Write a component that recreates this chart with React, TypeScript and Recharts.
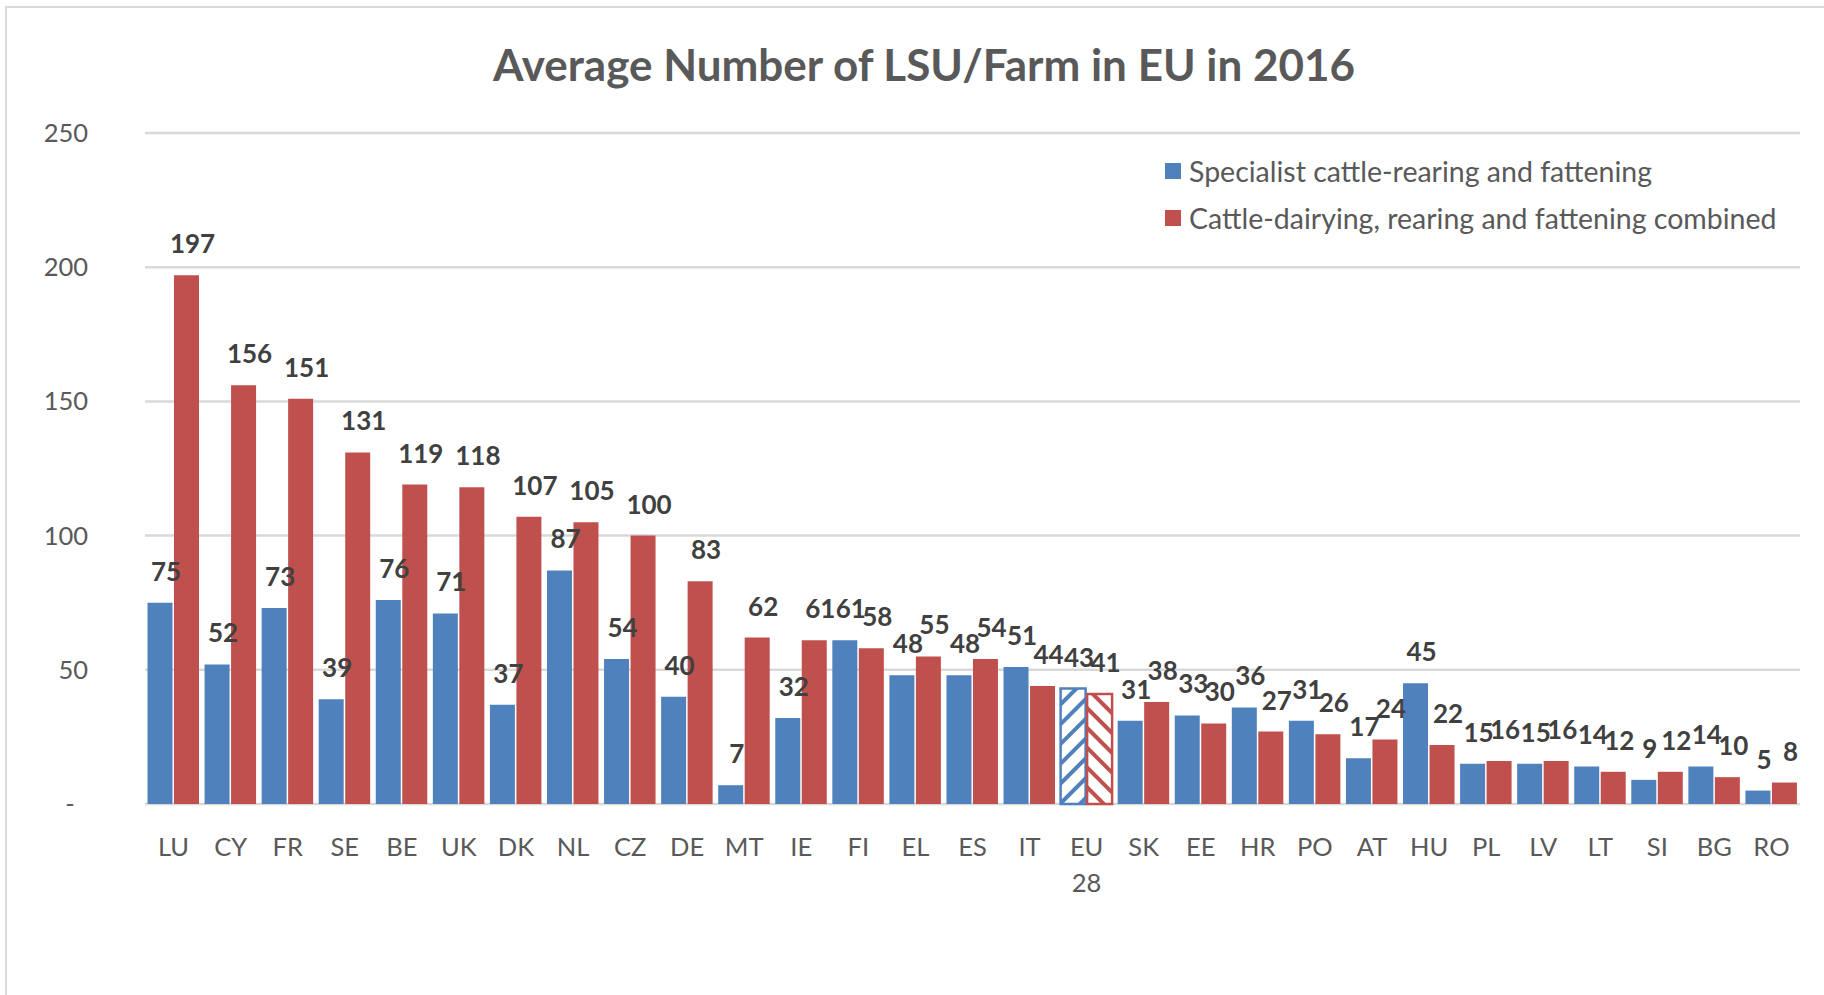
import React from 'react';
import { BarChart, Bar, XAxis, YAxis, CartesianGrid, LabelList, Cell } from 'recharts';

const countries = ['LU', 'CY', 'FR', 'SE', 'BE', 'UK', 'DK', 'NL', 'CZ', 'DE', 'MT', 'IE', 'FI', 'EL', 'ES', 'IT', 'EU 28', 'SK', 'EE', 'HR', 'PO', 'AT', 'HU', 'PL', 'LV', 'LT', 'SI', 'BG', 'RO'];
const specialist = [75, 52, 73, 39, 76, 71, 37, 87, 54, 40, 7, 32, 61, 48, 48, 51, 43, 31, 33, 36, 31, 17, 45, 15, 15, 14, 9, 14, 5];
const combined = [197, 156, 151, 131, 119, 118, 107, 105, 100, 83, 62, 61, 58, 55, 54, 44, 41, 38, 30, 27, 26, 24, 22, 16, 16, 12, 12, 10, 8];
const yTicks = [0, 50, 100, 150, 200, 250];
const seriesNames = ['Specialist cattle-rearing and fattening', 'Cattle-dairying, rearing and fattening combined'];
const seriesColors = ['#4F81BD', '#C0504D'];
const averageName = 'EU 28';
const title = 'Average Number of LSU/Farm in EU in 2016';

const FONT = 'Lato, Calibri, sans-serif';
const TEXT = '#595959';

const data = countries.map((name, i) => ({ name, specialist: specialist[i], combined: combined[i] }));

const XTick = ({ x, y, payload }: any) => {
  const lines = String(payload.value).split(' ');
  return (
    <text x={x} y={y} textAnchor="middle" fill={TEXT} fontSize={25.5} fontFamily={FONT}>
      {lines.map((l, i) => (
        <tspan key={i} x={x} dy={i === 0 ? 52 : 36}>{l}</tspan>
      ))}
    </text>
  );
};

const YTick = ({ x, y, payload }: any) => {
  const zero = payload.value === 0;
  return (
    <text x={zero ? x - 75 : x - 57} y={y} dy={9} textAnchor={zero ? 'middle' : 'end'} fill={TEXT} fontSize={25.5} fontFamily={FONT}>
      {zero ? '-' : payload.value}
    </text>
  );
};

// data labels sit a little right of the bar centre, like the original
const renderValue = (props: any) => {
  const { x, y, width, value } = props;
  return (
    <text x={x + width / 2 + 6} y={y - 22} textAnchor="middle" fill="#404040" fontSize={26} fontWeight="bold" fontFamily={FONT}>
      {value}
    </text>
  );
};

export default function App() {
  return (
    <div style={{ position: 'relative', width: 1824, height: 995, background: '#fff', overflow: 'hidden', fontFamily: FONT }}>
      <style>{'body{margin:0}'}</style>
      <div style={{ position: 'absolute', left: 5, top: 6, width: 1900, height: 1100, borderLeft: '2px solid #D9D9D9', borderTop: '2px solid #D9D9D9' }} />
      <div style={{ position: 'absolute', left: 0, top: 38, width: 1848, textAlign: 'center', lineHeight: '52px', fontSize: 44, fontWeight: 'bold', color: TEXT }}>
        {title}
      </div>
      <div style={{ position: 'absolute', left: 1165, top: 148, color: TEXT, fontSize: 28.5 }}>
        {seriesNames.map((n, i) => (
          <div key={n} style={{ display: 'flex', alignItems: 'center', height: 46.5 }}>
            <span style={{ display: 'inline-block', width: 16, height: 16, background: seriesColors[i], marginRight: 8 }} />
            <span>{n}</span>
          </div>
        ))}
      </div>
      <div style={{ position: 'absolute', left: 0, top: 0 }}>
        <BarChart width={1824} height={995} data={data} margin={{ top: 133, right: 24, bottom: 131, left: 0 }} barCategoryGap={2.5} barGap={1.5}>
          <defs>
            <pattern id="hatchBlue" patternUnits="userSpaceOnUse" width={14} height={14} patternTransform="rotate(45)">
              <rect width={14} height={14} fill="#fff" />
              <rect width={4} height={14} fill={seriesColors[0]} />
            </pattern>
            <pattern id="hatchRed" patternUnits="userSpaceOnUse" width={14} height={14} patternTransform="rotate(-45)">
              <rect width={14} height={14} fill="#fff" />
              <rect width={4} height={14} fill={seriesColors[1]} />
            </pattern>
          </defs>
          <CartesianGrid vertical={false} stroke="#D9D9D9" strokeWidth={2.5} />
          <XAxis dataKey="name" interval={0} height={60} axisLine={false} tickLine={false} tickSize={0} tickMargin={0} tick={<XTick />} />
          <YAxis domain={[0, 250]} ticks={yTicks} width={145} axisLine={false} tickLine={false} tickSize={0} tickMargin={0} tick={<YTick />} />
          <Bar dataKey="specialist" name={seriesNames[0]} fill={seriesColors[0]} isAnimationActive={false}>
            {data.map((d) => (
              <Cell key={d.name} fill={d.name === averageName ? 'url(#hatchBlue)' : seriesColors[0]} stroke={d.name === averageName ? seriesColors[0] : 'none'} strokeWidth={2.5} />
            ))}
            <LabelList dataKey="specialist" content={renderValue} />
          </Bar>
          <Bar dataKey="combined" name={seriesNames[1]} fill={seriesColors[1]} isAnimationActive={false}>
            {data.map((d) => (
              <Cell key={d.name} fill={d.name === averageName ? 'url(#hatchRed)' : seriesColors[1]} stroke={d.name === averageName ? seriesColors[1] : 'none'} strokeWidth={2.5} />
            ))}
            <LabelList dataKey="combined" content={renderValue} />
          </Bar>
        </BarChart>
      </div>
    </div>
  );
}
